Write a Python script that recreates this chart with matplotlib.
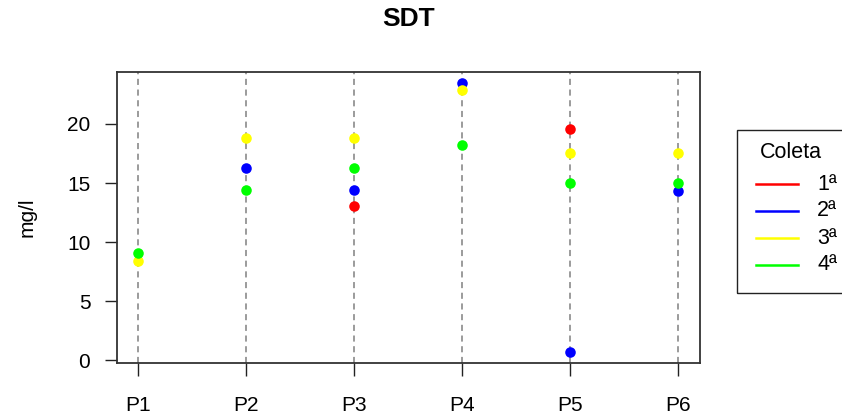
import numpy as np
import matplotlib.pyplot as plt
from matplotlib.patches import Rectangle
from matplotlib.lines import Line2D

plt.rcParams['font.family'] = ['Liberation Sans', 'DejaVu Sans']

# Sólidos dissolvidos totais por ponto e por coleta (mg/l)
pontos = ['P1', 'P2', 'P3', 'P4', 'P5', 'P6']
coleta1 = [np.nan, np.nan, 13.05, np.nan, 19.55, np.nan]
coleta2 = [np.nan, 16.3, 14.37, 23.47, 0.7, 14.31]
coleta3 = [8.43, 18.85, 18.85, 22.85, 17.56, 17.56]
coleta4 = [9.1, 14.37, 16.3, 18.23, 15.02, 15.02]
rotulos = ['1ª', '2ª', '3ª', '4ª']
cores = ['#ff0000', '#0000ff', '#ffff00', '#00ff00']

fig = plt.figure(figsize=(8.42, 4.16), dpi=100)
ax = fig.add_axes([0.1386, 0.1286, 0.6928, 0.6976])

x = np.arange(1, len(pontos) + 1)
for xi in x:
    ax.axvline(xi, color='#808080', linestyle=(0, (4, 3)), linewidth=1.1, zorder=1)

for serie, cor in zip([coleta1, coleta2, coleta3, coleta4], cores):
    ax.plot(x, serie, 'o', color=cor, markersize=7.6, markeredgewidth=0, zorder=3)

ax.margins(x=0.04, y=0.04)
ax.set_xticks(x)
ax.set_xticklabels(pontos)
ax.set_yticks([0, 5, 10, 15, 20])
ax.tick_params(axis='both', labelsize=15, length=9, width=1, color='#222222', pad=10)
ax.tick_params(axis='x', pad=15)
for s in ax.spines.values():
    s.set_linewidth(1.3)
    s.set_color('#333333')
ax.set_ylabel('mg/l', fontsize=15, labelpad=22)
ax.set_title('SDT', fontsize=19, fontweight='bold', pad=33)

# legenda desenhada à direita, com a caixa saindo da figura
fig.patches.append(Rectangle((736.7 / 842, 1 - 293 / 416), 0.2, 163 / 416,
                             transform=fig.transFigure, fill=False,
                             edgecolor='#222222', linewidth=1.0))
fig.text(791 / 842, 1 - 152 / 416, 'Coleta', fontsize=15.5, ha='center', va='center')
for i, (rot, cor) in enumerate(zip(rotulos, cores)):
    yy = 1 - (184 + i * 27) / 416
    fig.add_artist(Line2D([756 / 842, 798 / 842], [yy, yy], color=cor,
                          linewidth=1.8, transform=fig.transFigure))
    fig.text(817 / 842, yy, rot, fontsize=15.5, ha='left', va='center')

plt.savefig('out.png', dpi=100)
plt.close()
